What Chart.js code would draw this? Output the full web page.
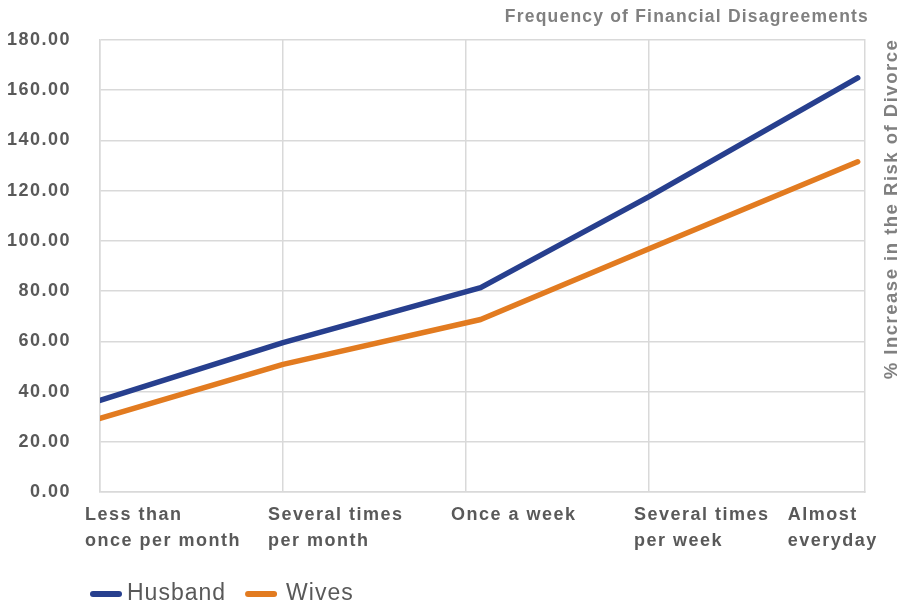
<!DOCTYPE html>
<html><head><meta charset="utf-8">
<script src="https://cdn.jsdelivr.net/npm/chart.js@4/dist/chart.umd.min.js"></script>
<style>html,body{margin:0;padding:0;background:#fff}#wrap{width:903px;height:608px;position:relative}</style>
</head><body><div id="wrap"><canvas id="c" width="903" height="608"></canvas></div>
<script>
// ---- data ----
const categories = [['Less than', 'once per month'], ['Several times', 'per month'], ['Once a week'], ['Several times', 'per week'], ['Almost', 'everyday']];
const frequencyIndex = [0, 1, 2.08, 3, 4.14];
const husband = [36.5, 59.5, 81.4, 117.6, 164.9];
const wives = [29.3, 50.8, 68.7, 96.9, 131.5];
const xTickValues = [0, 1, 2, 3, 3.84];
const xMax = 4.18;
const yMin = 0, yMax = 180, yStep = 20;
const seriesNames = ['Husband', 'Wives'];
const chartTitle = 'Frequency of Financial Disagreements';
const yTitle = '% Increase in the Risk of Divorce';

const BLUE = '#273f8e', ORANGE = '#e27b20', GRID = '#d9d9d9', TXT = '#595959', TTL = '#808080';
const FONT = '"Liberation Sans", Arial, sans-serif';

const spacingPlugin = {
  id: 'spacing',
  beforeLayout(chart) { chart.ctx.letterSpacing = '1.5px'; },
  beforeDraw(chart) { chart.ctx.letterSpacing = '1.5px'; }
};

const extrasPlugin = {
  id: 'extras',
  afterDraw(chart) {
    const ctx = chart.ctx;
    ctx.save();
    // top title
    ctx.letterSpacing = '1.2px';
    ctx.font = 'bold 17.5px ' + FONT;
    ctx.fillStyle = TTL;
    ctx.textAlign = 'right';
    ctx.textBaseline = 'middle';
    ctx.fillText(chartTitle, 869, 17);
    // right rotated title
    ctx.save();
    ctx.translate(892, 209);
    ctx.rotate(-Math.PI / 2);
    ctx.textAlign = 'center';
    ctx.font = 'bold 18.5px ' + FONT;
    ctx.letterSpacing = '1.5px';
    ctx.fillText(yTitle, 0, 0);
    ctx.restore();
    // legend
    ctx.letterSpacing = '1px';
    ctx.font = '23px ' + FONT;
    ctx.textAlign = 'left';
    ctx.textBaseline = 'middle';
    let x = 90;
    const y = 594;
    chart.data.datasets.forEach((ds, i) => {
      ctx.strokeStyle = ds.borderColor;
      ctx.lineWidth = 6;
      ctx.lineCap = 'round';
      ctx.beginPath();
      ctx.moveTo(x + 3, y);
      ctx.lineTo(x + 29, y);
      ctx.stroke();
      ctx.fillStyle = TXT;
      const gap = i === 0 ? 37 : 41;
      ctx.fillText(ds.label, x + gap, y);
      x += gap + ctx.measureText(ds.label).width + 19;
    });
    ctx.restore();
  }
};

const toPoints = (vals) => vals.map((v, i) => ({ x: frequencyIndex[i], y: v }));

new Chart(document.getElementById('c'), {
  type: 'line',
  data: {
    datasets: [
      { label: seriesNames[0], data: toPoints(husband), borderColor: BLUE, backgroundColor: BLUE, yAxisID: 'y' },
      { label: seriesNames[1], data: toPoints(wives), borderColor: ORANGE, backgroundColor: ORANGE, yAxisID: 'y' }
    ]
  },
  options: {
    responsive: false,
    animation: false,
    devicePixelRatio: 1,
    elements: {
      line: { borderWidth: 5.5, tension: 0, borderCapStyle: 'round', borderJoinStyle: 'round' },
      point: { radius: 0 }
    },
    layout: { padding: { left: 0, right: 0, top: 40, bottom: 46 } },
    plugins: { legend: { display: false }, title: { display: false }, tooltip: { enabled: false } },
    scales: {
      x: {
        type: 'linear',
        min: 0,
        max: xMax,
        afterBuildTicks(scale) { scale.ticks = xTickValues.map(v => ({ value: v })); },
        afterFit(scale) { scale.height = 70; scale.paddingLeft = 0; scale.paddingRight = 0; },
        ticks: {
          autoSkip: false,
          maxRotation: 0,
          minRotation: 0,
          align: 'start',
          labelOffset: -15,
          padding: 10,
          color: TXT,
          font: { family: FONT, size: 18, weight: 'bold', lineHeight: 1.45 },
          callback: (v, i) => categories[i]
        },
        grid: {
          color: (c) => (c.index === xTickValues.length - 1 ? 'rgba(0,0,0,0)' : GRID),
          lineWidth: 1.5,
          drawTicks: false
        },
        border: { color: GRID, width: 1.5 }
      },
      y: {
        type: 'linear',
        position: 'left',
        min: yMin,
        max: yMax,
        afterFit(scale) { scale.width = 100; },
        ticks: {
          stepSize: yStep,
          padding: 29,
          color: TXT,
          font: { family: FONT, size: 18, weight: 'bold' },
          callback: (v) => Number(v).toFixed(2)
        },
        grid: { color: GRID, lineWidth: 1.5, drawTicks: false },
        border: { color: GRID, width: 1.5 }
      },
      y2: {
        type: 'linear',
        position: 'right',
        min: yMin,
        max: yMax,
        afterFit(scale) { scale.width = 38; },
        ticks: { display: false },
        grid: { drawOnChartArea: false, drawTicks: false },
        border: { color: GRID, width: 1.5 }
      }
    }
  },
  plugins: [spacingPlugin, extrasPlugin]
});
</script>
</body></html>
